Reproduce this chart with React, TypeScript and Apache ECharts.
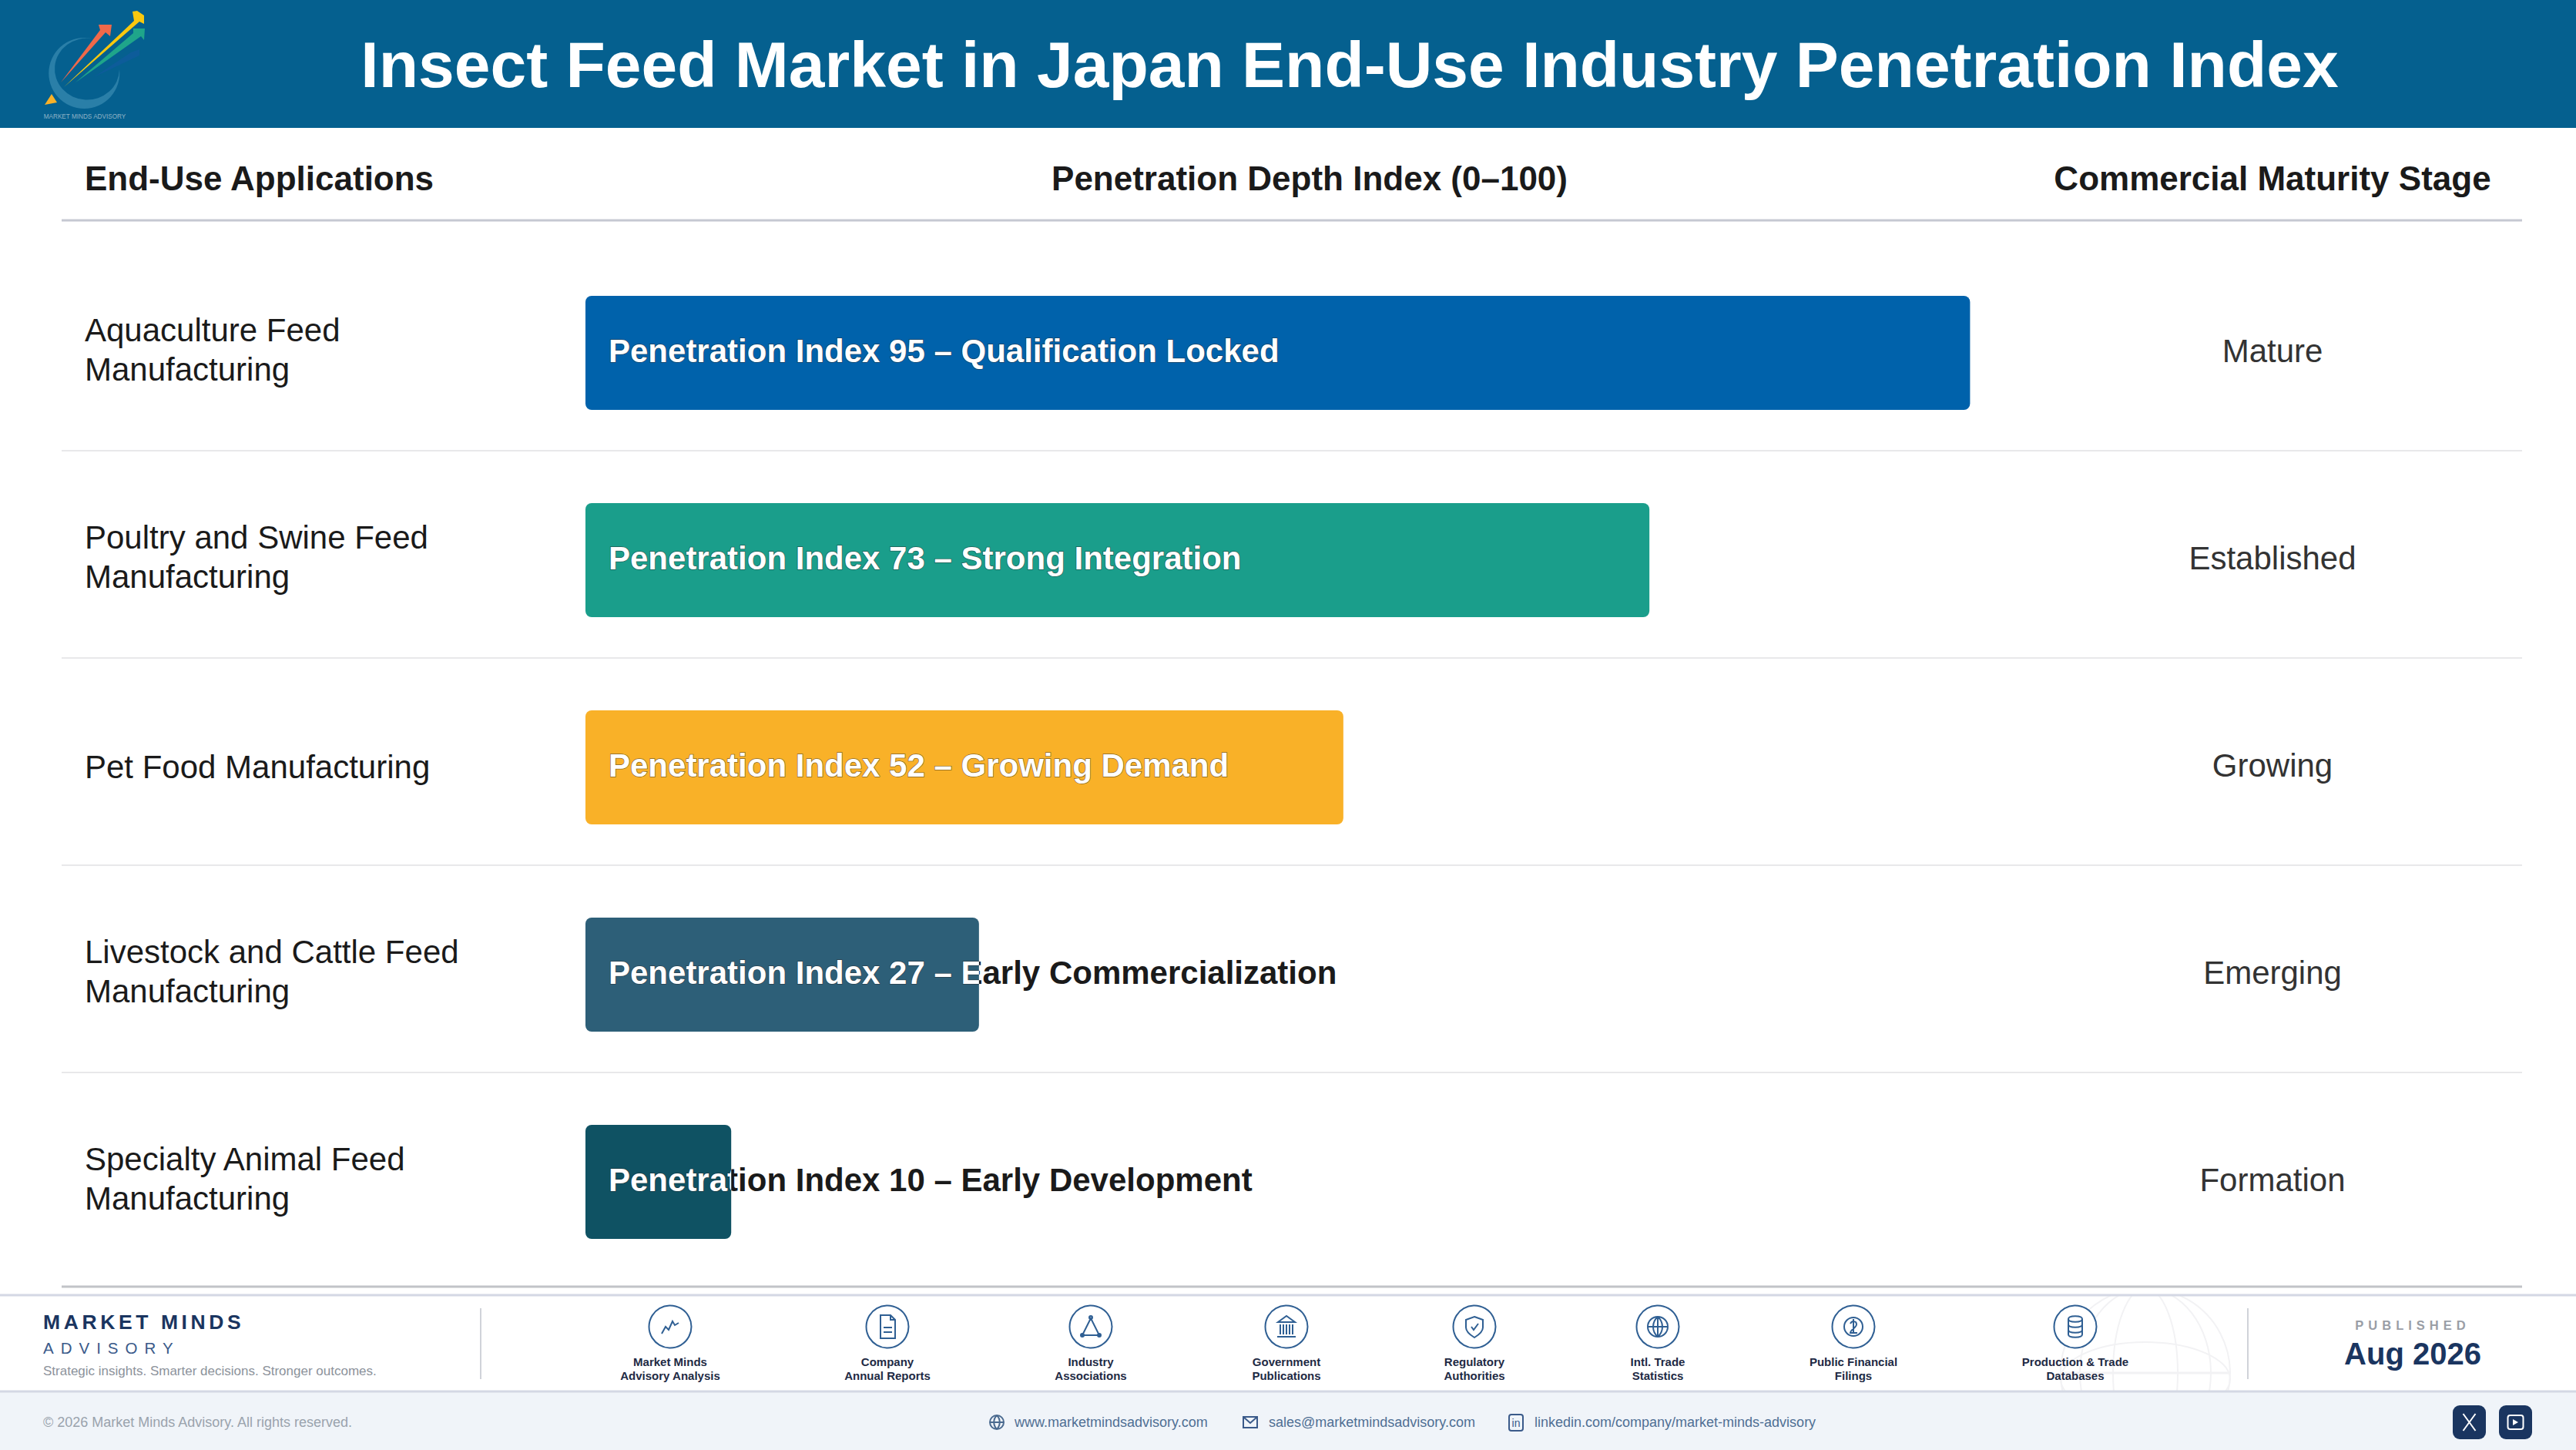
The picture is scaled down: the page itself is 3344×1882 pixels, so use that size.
import { useEffect, useRef } from "react"
import * as echarts from "echarts"

const applications = [
  "Aquaculture Feed\nManufacturing",
  "Poultry and Swine Feed\nManufacturing",
  "Pet Food Manufacturing",
  "Livestock and Cattle Feed\nManufacturing",
  "Specialty Animal Feed\nManufacturing",
]
const penetration = [95, 73, 52, 27, 10]
const stageLabels = ["Qualification Locked", "Strong Integration", "Growing Demand", "Early Commercialization", "Early Development"]
const maturity = ["Mature", "Established", "Growing", "Emerging", "Formation"]
const barColors = ["#0062AB", "#1A9E8B", "#F9B128", "#2D5F78", "#0F5263"]

const sources = [
  ["Market Minds", "Advisory Analysis"],
  ["Company", "Annual Reports"],
  ["Industry", "Associations"],
  ["Government", "Publications"],
  ["Regulatory", "Authorities"],
  ["Intl. Trade", "Statistics"],
  ["Public Financial", "Filings"],
  ["Production & Trade", "Databases"],
]
const sourceX = [870, 1152, 1416, 1670, 1914, 2152, 2406, 2694]

const FONT = '"Liberation Sans", Arial, sans-serif'
const NAVY = "#1A3560"
const ICON = "#2F5F93"
const GLOBE = "#F2F2F4"

const GRID_LEFT = 760
const GRID_WIDTH = 1892
const GRID_TOP = 323.5
const ROW_H = 269

const labelText = (i: number) => `Penetration Index ${penetration[i]} – ${stageLabels[i]}`

const sourceIcons = [
  "M-11 9L-6 0L-2 4L3 -7L6 -2L11 -5",
  "M-9 -15H4L10 -9V15H-9ZM4 -15V-9H10M-5 1H6M-5 7H6",
  "M0 -11L-11 11H11ZM-2 -12A2 2 0 1 0 2 -12A2 2 0 1 0 -2 -12M-13 11A2 2 0 1 0 -9 11A2 2 0 1 0 -13 11M9 11A2 2 0 1 0 13 11A2 2 0 1 0 9 11",
  "M-11 -6L0 -14L11 -6ZM-8 -3V10M-4 -3V10M0 -3V10M4 -3V10M8 -3V10M-12 13H12",
  "M0 -13L11 -9V1C11 7 5 11 0 14C-5 11 -11 7 -11 1V-9ZM-4 0L-1 4L5 -4",
  "M-13 0A13 13 0 1 0 13 0A13 13 0 1 0 -13 0M-13 0H13M0 -13V13M0 -13C-8 -6 -8 6 0 13M0 -13C8 -6 8 6 0 13",
  "M-12 0A12 12 0 1 0 12 0A12 12 0 1 0 -12 0M-4 -4C-2 -8 4 -8 4 -3C4 1 -4 4 -4 8H5M0 -10V8",
  "M-9 -10C-9 -15 9 -15 9 -10C9 -5 -9 -5 -9 -10M-9 -10V10C-9 15 9 15 9 10V-10M-9 -3C-9 2 9 2 9 -3M-9 4C-9 9 9 9 9 4",
]

sourceIcons.forEach((d, i) => echarts.graphic.registerShape(`source${i}`, echarts.graphic.extendPath(d, {})))
echarts.graphic.registerShape("logoRing", echarts.graphic.extendPath("M119 50A46 46 0 1 0 155 90A42 40 0 1 1 119 50Z", {}))
echarts.graphic.registerShape("webIcon", echarts.graphic.extendPath("M-9 0A9 9 0 1 0 9 0A9 9 0 1 0 -9 0M-9 0H9M0 -9C-5 -4 -5 4 0 9M0 -9C5 -4 5 4 0 9", {}))
echarts.graphic.registerShape("mailIcon", echarts.graphic.extendPath("M-9 -7H9V7H-9ZM-9 -7L0 1L9 -7", {}))
echarts.graphic.registerShape("xIcon", echarts.graphic.extendPath("M-8 -11L8 11M8 -11L-8 11", {}))
echarts.graphic.registerShape("playIcon", echarts.graphic.extendPath("M-7 -9H7A3 3 0 0 1 10 -6V6A3 3 0 0 1 7 9H-7A3 3 0 0 1 -10 6V-6A3 3 0 0 1 -7 -9Z", {}))

const txt = (text: string, x: number, y: number, size: number, fill: string, weight = "normal", align = "left") => ({
  type: "text",
  x,
  y,
  silent: true,
  style: { text, fill, font: `${weight} ${size}px ${FONT}`, textAlign: align, textVerticalAlign: "middle" },
})

const hline = (y: number, x1: number, x2: number, stroke: string, lineWidth: number) => ({
  type: "line",
  silent: true,
  shape: { x1, y1: y, x2, y2: y },
  style: { stroke, lineWidth },
})

const vline = (x: number, y1: number, y2: number, stroke: string, lineWidth: number) => ({
  type: "line",
  silent: true,
  shape: { x1: x, y1, x2: x, y2 },
  style: { stroke, lineWidth },
})

const outline = (type: string, x: number, y: number, stroke = ICON, lineWidth = 2) => ({
  type,
  x,
  y,
  silent: true,
  style: { stroke, fill: "none", lineWidth },
})

const poly = (points: number[][], fill: string) => ({ type: "polygon", silent: true, shape: { points }, style: { fill } })

const buildGraphic = () => {
  const elements: any[] = [
    // logo
    { type: "logoRing", x: 0, y: 0, silent: true, style: { fill: "#2A7FA8" } },
    poly([[79, 107], [130, 39], [128, 32], [145, 32], [143, 47], [137, 42]], "#F0694A"),
    poly([[83, 113], [174, 27], [172, 15], [178, 14], [187, 20], [187, 31], [181, 28]], "#F9C80E"),
    poly([[98, 107], [173, 43], [173, 37], [188, 37], [187, 52], [183, 47]], "#1FA58A"),
    poly([[122, 100], [170, 68], [181, 64], [181, 72]], "#0D5C9A"),
    poly([[58, 136], [67, 122], [74, 133]], "#F9B128"),
    txt("MARKET MINDS ADVISORY", 110, 151, 8.2, "#8FB3C6", "normal", "center"),
    // globe watermark, the white and tinted boxes below cut it off
    { type: "circle", silent: true, shape: { cx: 2785, cy: 1782, r: 110 }, style: { fill: "none", stroke: GLOBE, lineWidth: 2 } },
    { type: "ellipse", silent: true, shape: { cx: 2785, cy: 1782, rx: 42, ry: 110 }, style: { fill: "none", stroke: GLOBE, lineWidth: 2 } },
    { type: "ellipse", silent: true, shape: { cx: 2785, cy: 1782, rx: 85, ry: 110 }, style: { fill: "none", stroke: GLOBE, lineWidth: 2 } },
    { type: "ellipse", silent: true, shape: { cx: 2785, cy: 1790, rx: 110, ry: 48 }, style: { fill: "none", stroke: GLOBE, lineWidth: 2 } },
    hline(1782, 2675, 2895, GLOBE, 3),
    { type: "rect", silent: true, shape: { x: 2660, y: 1660, width: 250, height: 21 }, style: { fill: "#FFFFFF" } },
    { type: "rect", silent: true, shape: { x: 0, y: 1806, width: 3344, height: 76 }, style: { fill: "#F0F4F9" } },
    // table header
    txt("End-Use Applications", 110, 231, 44, "#1A1A1A", "bold"),
    txt("Penetration Depth Index (0–100)", 1700, 231, 44, "#1A1A1A", "bold", "center"),
    txt("Commercial Maturity Stage", 2950, 231, 44, "#1A1A1A", "bold", "center"),
    hline(286, 80, 3274, "#C6C8D2", 3),
    hline(1670, 80, 3274, "#C2C4C8", 3),
    // footer
    hline(1681, 0, 3344, "#D4D8E4", 3),
    hline(1806, 0, 3344, "#D4D8E4", 3),
    vline(624, 1698, 1790, "#D0D3D9", 2),
    vline(2918, 1698, 1790, "#D0D3D9", 2),
    txt("MARKET MINDS", 56, 1716, 26.5, NAVY, "bold"),
    txt("ADVISORY", 56, 1749, 20.5, "#3A5A8A"),
    txt("Strategic insights. Smarter decisions. Stronger outcomes.", 56, 1779, 17, "#8C929B"),
    txt("PUBLISHED", 3132, 1720, 16.5, "#9A9EA6", "bold", "center"),
    txt("Aug 2026", 3132, 1757, 40, NAVY, "bold", "center"),
    txt("© 2026 Market Minds Advisory. All rights reserved.", 56, 1846, 18, "#9AA3AD"),
    outline("webIcon", 1294, 1846, "#4A6A8F"),
    txt("www.marketmindsadvisory.com", 1317, 1846, 18, "#4F6F94"),
    outline("mailIcon", 1623, 1846, "#3A5A8A"),
    txt("sales@marketmindsadvisory.com", 1647, 1846, 18, "#4F6F94"),
    { type: "rect", silent: true, shape: { x: 1959, y: 1836, width: 18, height: 21, r: 3 }, style: { fill: "none", stroke: "#3A5A8A", lineWidth: 2 } },
    txt("in", 1968, 1847, 14, "#3A5A8A", "normal", "center"),
    txt("linkedin.com/company/market-minds-advisory", 1992, 1846, 18, "#4F6F94"),
    { type: "rect", silent: true, shape: { x: 3184, y: 1824, width: 43, height: 44, r: 9 }, style: { fill: NAVY } },
    { type: "rect", silent: true, shape: { x: 3244, y: 1824, width: 43, height: 44, r: 9 }, style: { fill: NAVY } },
    outline("xIcon", 3205.5, 1846, "#FFFFFF"),
    outline("playIcon", 3265.5, 1846, "#FFFFFF"),
    poly([[3262, 1842], [3262, 1850], [3269, 1846]], "#FFFFFF"),
  ]
  // row separators
  for (let i = 1; i < penetration.length; i++) {
    elements.push(hline(GRID_TOP + ROW_H * i - 7.5, 80, 3274, "#E8E8EA", 2))
  }
  sources.forEach((lines, i) => {
    const x = sourceX[i]
    elements.push({ type: "circle", silent: true, shape: { cx: x, cy: 1722, r: 27.5 }, style: { fill: "#FFFFFF", stroke: ICON, lineWidth: 2 } })
    elements.push(outline(`source${i}`, x, 1722))
    elements.push(txt(lines[0], x, 1767, 15, "#1E2A44", "bold", "center"))
    elements.push(txt(lines[1], x, 1785, 15, "#1E2A44", "bold", "center"))
  })
  return elements
}

function labelSeries(color: string, clip: boolean, z: number, show: (v: number) => boolean) {
  return {
    type: "custom",
    z,
    silent: true,
    clip: false,
    coordinateSystem: "cartesian2d",
    data: penetration.map((v, i) => [v, i]),
    encode: { x: 0, y: 1 },
    renderItem(_params: any, api: any) {
      const value = api.value(0) as number
      const index = api.value(1) as number
      if (!show(value)) return { type: "group", children: [] }
      const [x0, y] = api.coord([0, index])
      const [x1] = api.coord([value, 0])
      const style: any = {
        text: labelText(index),
        x: x0 + 30,
        y: y - 3,
        fill: color,
        font: `bold 42px ${FONT}`,
        textAlign: "left",
        textVerticalAlign: "middle",
      }
      if (clip) {
        style.stroke = "rgba(40,40,40,0.55)"
        style.lineWidth = 1.5
      }
      const text = { type: "text", silent: true, style }
      return clip
        ? { type: "group", clipPath: { type: "rect", shape: { x: x0, y: y - 74, width: x1 - x0, height: 148 } }, children: [text] }
        : text
    },
  }
}

export default function App() {
  const chartRef = useRef<HTMLDivElement>(null)

  useEffect(() => {
    if (!chartRef.current) return
    const chart = echarts.init(chartRef.current, undefined, { renderer: "svg" })
    const option: any = {
      animation: false,
      backgroundColor: "#FFFFFF",
      title: {
        text: "Insect Feed Market in Japan End-Use Industry Penetration Index",
        left: 1747,
        top: 79,
        textAlign: "center",
        textVerticalAlign: "middle",
        textStyle: { color: "#FFFFFF", fontFamily: FONT, fontWeight: "bold", fontSize: 84 },
      },
      graphic: [
        { type: "rect", z: -10, silent: true, shape: { x: 0, y: 0, width: 3344, height: 166 }, style: { fill: "#05608F" } },
        ...buildGraphic(),
      ],
      grid: { left: GRID_LEFT, top: GRID_TOP, width: GRID_WIDTH, height: ROW_H * penetration.length, outerBoundsMode: "none" },
      xAxis: { type: "value", min: 0, max: 100, show: false },
      yAxis: [
        {
          type: "category",
          inverse: true,
          data: applications,
          axisLine: { show: false },
          axisTick: { show: false },
          axisLabel: {
            margin: 650,
            align: "left",
            // two-line names sit a little above the row centre
            formatter: (value: string) =>
              value.includes("\n") ? value.split("\n").map((s) => `{two|${s}}`).join("\n") : `{one|${value}}`,
            rich: {
              one: { color: "#1A1A1A", fontFamily: FONT, fontSize: 42, lineHeight: 51, padding: [0, 0, 2, 0] },
              two: { color: "#1A1A1A", fontFamily: FONT, fontSize: 42, lineHeight: 51, padding: [0, 0, 8, 0] },
            },
          },
        },
        {
          type: "category",
          inverse: true,
          position: "right",
          data: maturity,
          axisLine: { show: false },
          axisTick: { show: false },
          axisLabel: {
            margin: 298,
            align: "center",
            formatter: (value: string) => `{a|${value}}`,
            rich: { a: { color: "#333333", fontFamily: FONT, fontSize: 42, lineHeight: 46, padding: [0, 0, 6, 0] } },
          },
        },
      ],
      series: [
        labelSeries("#1A1A1A", false, 1, (v) => v < 40),
        {
          type: "bar",
          z: 2,
          barWidth: 148,
          silent: true,
          data: penetration.map((v, i) => ({ value: v, itemStyle: { color: barColors[i], borderRadius: 8 } })),
        },
        labelSeries("#FFFFFF", true, 3, () => true),
      ],
    }
    chart.setOption(option)
    return () => chart.dispose()
  }, [])

  return (
    <>
      <style>{`
        html, body { margin: 0; padding: 0; background: #fff; }
        svg text[style*="26.5px"] { letter-spacing: 4.6px; }
        svg text[style*="20.5px"] { letter-spacing: 9px; }
        svg text[style*="16.5px"] { letter-spacing: 6px; }
      `}</style>
      <div ref={chartRef} style={{ width: 3344, height: 1882 }} />
    </>
  )
}
